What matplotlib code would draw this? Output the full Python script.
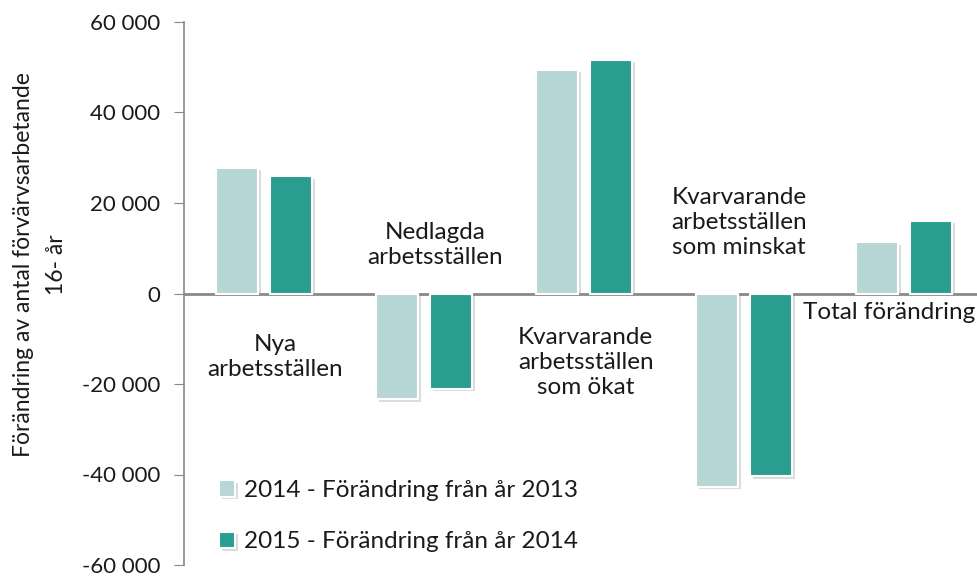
import matplotlib.pyplot as plt
import matplotlib.patheffects as pe
import numpy as np

plt.rcParams['font.family'] = ['Lato', 'DejaVu Sans']

# data
kategorier = ["Nya\narbetsställen", "Nedlagda\narbetsställen",
              "Kvarvarande\narbetsställen\nsom ökat",
              "Kvarvarande\narbetsställen\nsom minskat", "Total förändring"]
v2014 = [27800, -23400, 49500, -42700, 11300]
v2015 = [25900, -21000, 51700, -40400, 16100]
# label position for each category text
etikett_y = [-14000, 10800, -15200, 15700, -4200]
etikett_x = [0.07, 0.07, 0.01, -0.03, -0.09]
ytitel = ["Förändring av antal förvärvsarbetande", "16- år"]

ljus = "#b6d7d6"
mork = "#2a9d91"
textfarg = '#1a1a1a'

fig = plt.figure(figsize=(9.78, 5.76), dpi=100)
ax = fig.add_axes([184/978, 11/576, 800/978, 543/576])

x = np.arange(len(kategorier))
w = 0.2625
off = 0.168
skugga = [pe.SimplePatchShadow(offset=(2, -2), shadow_rgbFace='#999999', alpha=0.35), pe.Normal()]
b1 = ax.bar(x - off, v2014, w, color=ljus, edgecolor='white', linewidth=1.5,
            label="2014 - Förändring från år 2013", zorder=3)
b2 = ax.bar(x + off, v2015, w, color=mork, edgecolor='white', linewidth=1.5,
            label="2015 - Förändring från år 2014", zorder=3)
for b in list(b1) + list(b2):
    b.set_path_effects(skugga)

for i, txt in enumerate(kategorier):
    ax.text(x[i] + etikett_x[i], etikett_y[i], txt, ha='center', va='center',
            fontsize=17.5, color=textfarg, linespacing=1.25)

ax.axhline(0, color='#888888', linewidth=2, zorder=2)
ax.set_xlim(-0.5, 4.5)
ax.set_ylim(-60000, 60000)
ax.set_yticks(np.arange(-60000, 60001, 20000))
ax.set_yticklabels([f"{v:,}".replace(",", " ") for v in range(-60000, 60001, 20000)])
ax.set_xticks([])
for s in ['top', 'right', 'bottom']:
    ax.spines[s].set_visible(False)
ax.spines['left'].set_color('#888888')
ax.spines['left'].set_linewidth(1.2)
ax.tick_params(axis='y', length=7, color='#888888', labelsize=16, labelcolor=textfarg, pad=10)

# y-axis title, two lines centred on the same height
for rad, xp in zip(ytitel, [24, 57]):
    fig.text(xp/978, 1 - 265/576, rad, rotation=90, rotation_mode='anchor',
             ha='center', va='center', fontsize=16.5, color=textfarg)

leg = fig.legend(handles=[b1, b2], loc='upper left', bbox_to_anchor=(219/978, 1 - 480/576),
                 frameon=False, fontsize=17.5, handlelength=0.66, handleheight=0.66,
                 labelspacing=1.25, handletextpad=0.35, borderpad=0, borderaxespad=0)
for t in leg.get_texts():
    t.set_color(textfarg)

fig.savefig("out.png", dpi=100)
